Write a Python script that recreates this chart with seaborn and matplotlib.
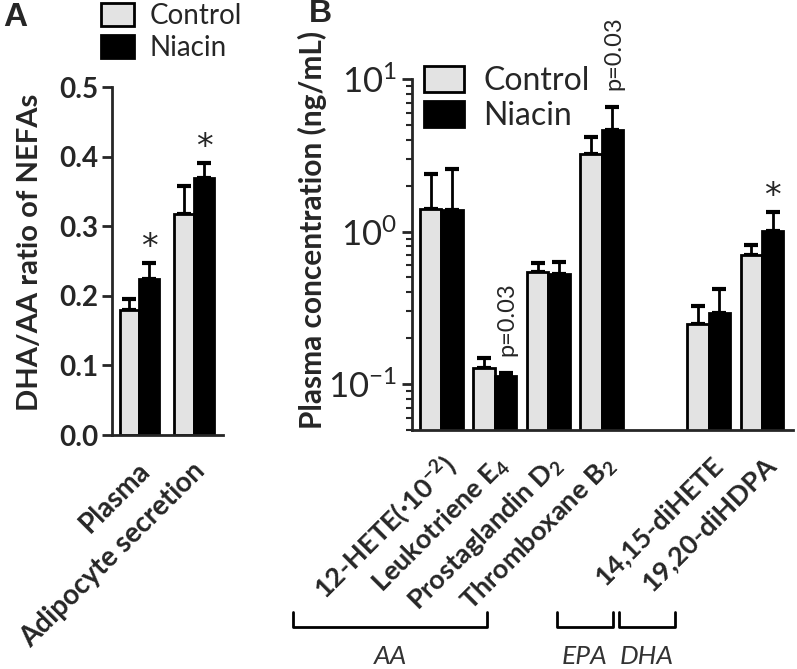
import numpy as np
import pandas as pd
import seaborn as sns
import matplotlib

matplotlib.use("Agg")
import matplotlib.pyplot as plt
from matplotlib.lines import Line2D
from matplotlib.patches import Patch
from matplotlib.ticker import FuncFormatter, LogLocator, NullFormatter, MultipleLocator
from matplotlib.transforms import ScaledTranslation

# ---- data ----
groups = ["Control", "Niacin"]

# panel A: DHA/AA ratio of NEFAs
a_sites = ["Plasma", "Adipocyte secretion"]
a_control = [0.180, 0.318]
a_control_err = [0.016, 0.040]
a_niacin = [0.224, 0.369]
a_niacin_err = [0.023, 0.022]
a_marks = ["*", "*"]

# panel B: plasma eicosanoids (ng/mL)
b_names = ["12-HETE(·10$^{-2}$)", "Leukotriene E$_4$", "Prostaglandin D$_2$",
           "Thromboxane B$_2$", "14,15-diHETE", "19,20-diHDPA"]
b_control = [1.41, 0.127, 0.54, 3.23, 0.247, 0.697]
b_control_err = [0.98, 0.021, 0.08, 0.95, 0.077, 0.125]
b_niacin = [1.39, 0.113, 0.53, 4.64, 0.291, 1.015]
b_niacin_err = [1.19, 0.005, 0.10, 1.92, 0.127, 0.335]
b_marks = ["", "p=0.03", "", "p=0.03", "", "*"]
b_families = ["AA", "EPA", "DHA"]

colors = {"Control": "#e3e3e3", "Niacin": "#000000"}

W, H = 797, 669
FONT = ["Lato", "DejaVu Sans"]

sns.set_style("ticks")
plt.rcParams["font.family"] = FONT
plt.rcParams["mathtext.fontset"] = "custom"
plt.rcParams["mathtext.rm"] = "Lato"
plt.rcParams["mathtext.default"] = "regular"

fig = plt.figure(figsize=(W / 100, H / 100), dpi=100)


def px_axes(x0, y0, x1, y1):
    return fig.add_axes([x0 / W, 1 - y1 / H, (x1 - x0) / W, (y1 - y0) / H])


def long_table(cats, ctrl, nia):
    return pd.DataFrame({
        "cat": list(cats) * 2,
        "group": ["Control"] * len(cats) + ["Niacin"] * len(cats),
        "value": list(ctrl) + list(nia),
    })


def draw_errors(ax, errs_by_group):
    tops = []
    for cont, errs in zip(ax.containers, errs_by_group):
        bars = sorted(cont.patches, key=lambda b: b.get_x())
        col = []
        for bar, e in zip(bars, errs):
            x = bar.get_x() + bar.get_width() / 2
            y = bar.get_height()
            ax.errorbar(x, y, yerr=[[0], [e]], fmt="none", ecolor="black",
                        elinewidth=2, capsize=5, capthick=3, zorder=1)
            col.append((x, y + e))
        tops.append(col)
    return tops


def style_axis(ax):
    sns.despine(ax=ax)
    for s in ["left", "bottom"]:
        ax.spines[s].set_linewidth(2)
    ax.tick_params(axis="x", length=0)
    ax.tick_params(axis="y", which="major", direction="out", length=7, width=2)
    ax.tick_params(axis="y", which="minor", direction="out", length=4, width=1.5)
    ax.set_xlabel("")


def shift_labels(ax, dx_px):
    off = ScaledTranslation(dx_px / 100, 0, fig.dpi_scale_trans)
    for lab in ax.get_xticklabels():
        lab.set_transform(lab.get_transform() + off)


def add_star(ax, x, top, dy):
    ax.annotate("*", (x, top), xytext=(0, dy), textcoords="offset points",
                ha="center", va="center", fontsize=24, family="DejaVu Sans")


# ---- panel A ----
axA = px_axes(112, 87, 223, 435)
dfA = long_table(a_sites, a_control, a_niacin)
sns.barplot(data=dfA, x="cat", y="value", hue="group", order=a_sites,
            hue_order=groups, palette=colors, width=0.72, edgecolor="black",
            linewidth=2, errorbar=None, legend=False, ax=axA, zorder=2)
topsA = draw_errors(axA, [a_control_err, a_niacin_err])
style_axis(axA)
axA.set_xlim(-0.5, 1.53)
axA.set_ylim(0, 0.5)
axA.yaxis.set_major_locator(MultipleLocator(0.1))
axA.yaxis.set_major_formatter(FuncFormatter(lambda v, p: "%.1f" % v))
axA.tick_params(axis="y", labelsize=20, pad=3)
for t in axA.get_yticklabels():
    t.set_fontweight("bold")
axA.set_xticks(range(len(a_sites)))
axA.set_xticklabels(a_sites, rotation=45, ha="right", va="center",
                    rotation_mode="anchor", fontsize=20, fontweight="bold")
axA.tick_params(axis="x", pad=23)
shift_labels(axA, 7)
axA.set_ylabel("DHA/AA ratio of NEFAs", fontsize=21, fontweight="bold")
axA.yaxis.set_label_coords(-0.62, 0.525)
for (x, top), m in zip(topsA[1], a_marks):
    add_star(axA, x, top, 11)

# ---- panel B ----
axB = px_axes(412, 79, 793, 430)
gap = " "
b_order = b_names[:4] + [gap] + b_names[4:]
dfB = long_table(b_names, b_control, b_niacin)
sns.barplot(data=dfB, x="cat", y="value", hue="group", order=b_order,
            hue_order=groups, palette=colors, width=0.8, edgecolor="black",
            linewidth=2, errorbar=None, legend=False, ax=axB, zorder=2)
axB.set_yscale("log")
topsB = draw_errors(axB, [b_control_err, b_niacin_err])
style_axis(axB)
axB.set_xlim(-0.55, 6.58)
axB.set_ylim(0.05, 10)
axB.yaxis.set_major_locator(LogLocator(base=10, numticks=5))
axB.yaxis.set_minor_locator(LogLocator(base=10, subs=np.arange(2, 10), numticks=20))
axB.yaxis.set_minor_formatter(NullFormatter())
axB.yaxis.set_major_formatter(FuncFormatter(lambda v, p: "10$^{%d}$" % round(np.log10(v))))
axB.tick_params(axis="y", labelsize=25, pad=4)
axB.set_xticks(range(len(b_order)))
axB.set_xticklabels(b_order, rotation=45, ha="right", va="center",
                    rotation_mode="anchor", fontsize=19.5, fontweight="bold")
axB.tick_params(axis="x", pad=22)
shift_labels(axB, 10)
axB.set_ylabel("Plasma concentration (ng/mL)", fontsize=21.5, fontweight="bold")
axB.yaxis.set_label_coords(-0.222, 0.57)
for (x, top), m in zip(topsB[1], b_marks):
    if m == "*":
        add_star(axB, x, top, 11)
    elif m:
        axB.annotate(m, (x, top), xytext=(1, 12), textcoords="offset points",
                     ha="center", va="bottom", rotation=90, fontsize=17)

# ---- legends ----
handles = [Patch(facecolor=colors[g], edgecolor="black", linewidth=2, label=g)
           for g in groups]
fig.legend(handles=handles, loc="upper left", bbox_to_anchor=(101 / W, 1 - 3 / H),
           frameon=False, fontsize=20, handlelength=1.2, handleheight=0.9,
           handletextpad=0.55, labelspacing=0.22, borderpad=0, borderaxespad=0)
fig.legend(handles=handles, loc="upper left", bbox_to_anchor=(424 / W, 1 - 66 / H),
           frameon=False, fontsize=23, handlelength=1.25, handleheight=0.85,
           handletextpad=0.6, labelspacing=0.16, borderpad=0, borderaxespad=0)

# ---- family brackets under panel B ----
bracket_spans = [(293, 487), (557, 613), (619, 675)]
for name, (x0, x1) in zip(b_families, bracket_spans):
    xs = [x0 / W, x0 / W, x1 / W, x1 / W]
    ys = [1 - 612 / H, 1 - 627 / H, 1 - 627 / H, 1 - 612 / H]
    fig.add_artist(Line2D(xs, ys, color="black", lw=2))
    fig.text((x0 + x1) / 2 / W, 1 - 657 / H, name, ha="center", va="center",
             fontsize=19, style="italic", color="#333333")

# ---- panel letters ----
fig.text(15 / W, 1 - 17 / H, "A", ha="center", va="center", fontsize=24,
         fontweight="bold", family="Liberation Sans")
fig.text(320 / W, 1 - 14 / H, "B", ha="center", va="center", fontsize=23,
         fontweight="bold", family="Liberation Sans")

fig.savefig("out.png", dpi=100)
